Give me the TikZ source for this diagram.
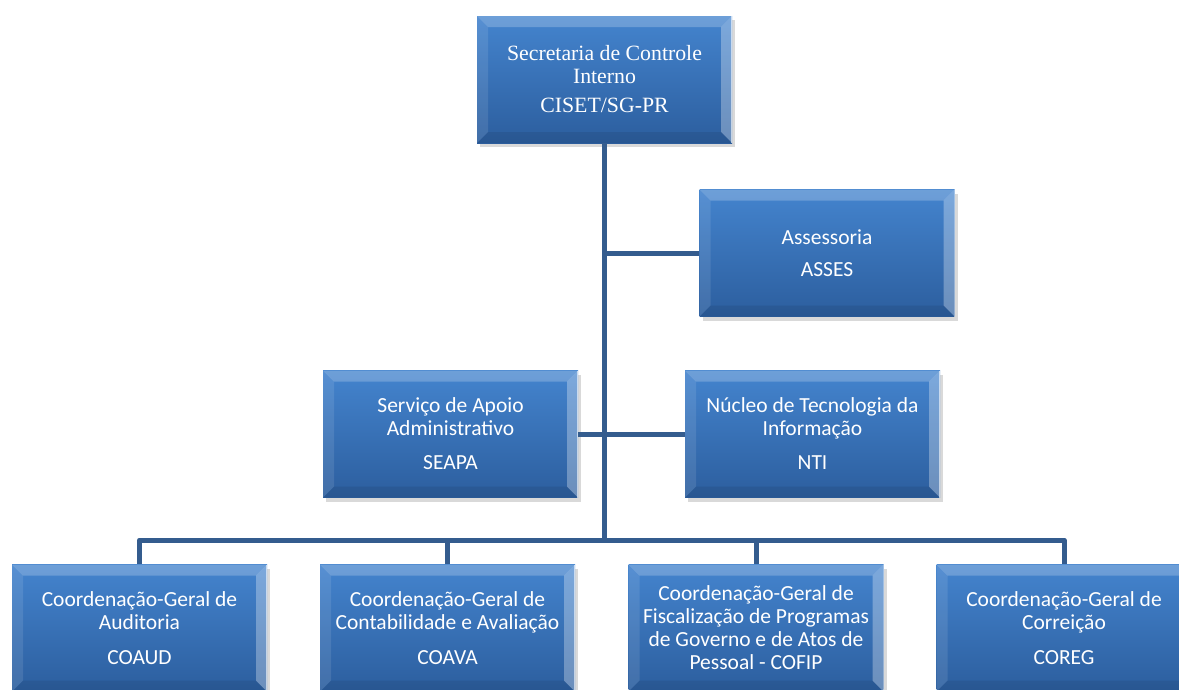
\documentclass[tikz,border=0pt]{standalone}
\usepackage{fontspec}
\newfontfamily\carlito{Carlito}
\newfontfamily\lserif{Liberation Serif}
\usetikzlibrary{calc,shadows}
\definecolor{boxtop}{RGB}{68,132,206}
\definecolor{boxbot}{RGB}{44,94,158}
\definecolor{conncol}{RGB}{52,92,142}
\tikzset{
  orgbox/.style={minimum width=255pt, minimum height=127pt, inner sep=0pt,
    top color=boxtop, bottom color=boxbot, text=white, align=center,
    font=\carlito\fontsize{21.5}{23}\selectfont,
    drop shadow={shadow xshift=3pt, shadow yshift=-4pt, opacity=0.3},
    path picture={
      \def\bb{path picture bounding box}
      \fill[white,opacity=0.22] (\bb.north west) -- (\bb.north east) -- ($(\bb.north east)+(-11pt,-11pt)$) -- ($(\bb.north west)+(11pt,-11pt)$) -- cycle;
      \fill[white,opacity=0.10] (\bb.north west) -- (\bb.south west) -- ($(\bb.south west)+(11pt,11pt)$) -- ($(\bb.north west)+(11pt,-11pt)$) -- cycle;
      \fill[white,opacity=0.30] (\bb.north east) -- (\bb.south east) -- ($(\bb.south east)+(-11pt,11pt)$) -- ($(\bb.north east)+(-11pt,-11pt)$) -- cycle;
      \fill[black,opacity=0.08] (\bb.south west) -- (\bb.south east) -- ($(\bb.south east)+(-11pt,11pt)$) -- ($(\bb.south west)+(11pt,11pt)$) -- cycle;
      \draw[white,opacity=0.6,line width=1.2pt] (\bb.north east) -- (\bb.south east);
    }},
  conn/.style={draw=conncol, line width=5pt, line join=round}
}
\begin{document}
\begin{tikzpicture}[x=1pt,y=-1pt]
\useasboundingbox (0,0) rectangle (1179,689);
\clip (0,0) rectangle (1179,689);
\coordinate (bus) at (604.5,540);
\node[orgbox, font=\lserif\fontsize{21.8}{22.5}\selectfont] (top) at (604.5,79.5) {Secretaria de Controle\\Interno\\[7pt]CISET/SG-PR};
\node[orgbox] (asses) at (827,253) {Assessoria\\[9pt]ASSES};
\node[orgbox] (seapa) at (450.5,434) {Serviço de Apoio\\Administrativo\\[11pt]SEAPA};
\node[orgbox] (nti) at (812.5,434) {Núcleo de Tecnologia da\\Informação\\[11pt]NTI};
\node[orgbox] (coaud) at (139.5,628) {Coordenação-Geral de\\Auditoria\\[12pt]COAUD};
\node[orgbox] (coava) at (447.5,628) {Coordenação-Geral de\\Contabilidade e Avaliação\\[12pt]COAVA};
\node[orgbox] (cofip) at (756,628) {Coordenação-Geral de\\Fiscalização de Programas\\de Governo e de Atos de\\Pessoal - COFIP};
\node[orgbox] (coreg) at (1064,628) {Coordenação-Geral de\\Correição\\[12pt]COREG};
\draw[conn] (top.south) -- (bus);
\draw[conn] (asses.west) -- (asses.west -| bus);
\draw[conn] (seapa.east) -- (nti.west);
\draw[conn] (bus) -| (coaud.north);
\draw[conn] (bus) -| (coava.north);
\draw[conn] (bus) -| (cofip.north);
\draw[conn] (bus) -| (coreg.north);
\end{tikzpicture}
\end{document}
